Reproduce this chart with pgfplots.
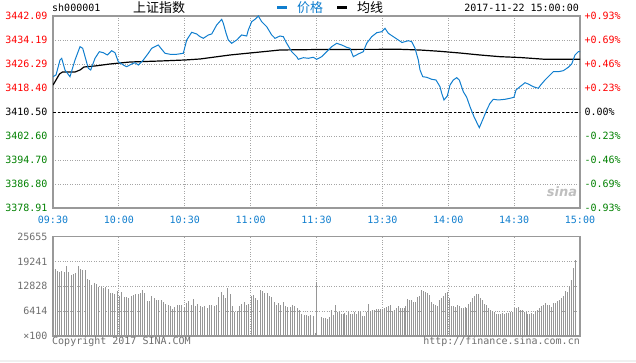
\documentclass[border=0pt]{standalone}
\usepackage{pgfplots}
\pgfplotsset{compat=1.18}
\usepackage{fontspec}
\setmonofont{DejaVu Sans Mono}
\setsansfont{DejaVu Sans}
\newfontfamily\cjk{Noto Sans CJK SC}
\definecolor{fgray}{RGB}{153,153,153}
\definecolor{gridgray}{RGB}{165,165,165}
\definecolor{pblue}{RGB}{16,126,206}
\definecolor{tred}{RGB}{255,0,0}
\definecolor{tgreen}{RGB}{0,128,0}
\definecolor{vgray}{RGB}{150,150,150}
\definecolor{lgray}{RGB}{110,110,110}
\newcommand{\mf}{\ttfamily\fontsize{10}{12}\selectfont}
\newcommand{\cf}{\cjk\fontsize{13}{14}\selectfont}
\begin{document}
\begin{tikzpicture}[x=1pt,y=1pt]
\path[use as bounding box] (0,0) rectangle (636,362);
\fill[black!6] (0,0) rectangle (636,2);
% header
\node[anchor=west,inner sep=0] at (52,354) {\mf sh000001};
\node[anchor=west,inner sep=0] at (133,354) {\cf 上证指数};
\draw[pblue,line width=3pt] (277,354.5)--(287,354.5);
\node[anchor=west,inner sep=0,text=pblue] at (297,354) {\cf 价格};
\draw[black,line width=3pt] (337,354.5)--(347,354.5);
\node[anchor=west,inner sep=0] at (357,354) {\cf 均线};
\node[anchor=east,inner sep=0] at (579,354) {\mf 2017-11-22 15:00:00};
% main price axis
\begin{axis}[
  at={(53pt,154pt)}, anchor=south west, scale only axis,
  width=527pt, height=192pt,
  xmin=0, xmax=240, ymin=3378.91, ymax=3442.09,
  xtick={0,30,60,90,120,150,180,210,240},
  xticklabels={09:30,10:00,10:30,11:00,11:30,13:30,14:00,14:30,15:00},
  ytick={3378.91,3386.80,3394.70,3402.60,3410.50,3418.40,3426.29,3434.19,3442.09},
  yticklabels={\textcolor{tgreen}{3378.91},\textcolor{tgreen}{3386.80},\textcolor{tgreen}{3394.70},\textcolor{tgreen}{3402.60},\textcolor{black}{3410.50},\textcolor{tred}{3418.40},\textcolor{tred}{3426.29},\textcolor{tred}{3434.19},\textcolor{tred}{3442.09}},
  major tick length=0pt,
  grid=major, major grid style={gridgray, dotted, line width=0.9pt},
  axis line style={fgray, line width=1.3pt},
  xticklabel style={font=\mf, text=pblue, yshift=-5pt},
  yticklabel style={font=\mf, xshift=-2pt},
  scaled y ticks=false,
]
\addplot[black, line width=0.9pt, dash pattern=on 2.5pt off 2pt] coordinates {(0,3410.50) (240,3410.50)};
\addplot[black, line width=1.2pt] coordinates {
(0,3419.38) (1.37,3421.03) (2.96,3423.00) (4.33,3423.66) (10.02,3423.66) (12.30,3424.32)
(14.12,3425.31) (19.13,3425.64) (25.96,3426.30) (35.07,3426.95) (48.73,3427.28) (60.11,3427.61)
(66.95,3427.94) (80.60,3429.26) (94.27,3430.24) (103.38,3430.90) (121.6,3431.07) (158.0,3431.13)
(167.1,3430.90) (176.2,3430.47) (185.3,3429.91) (194.4,3429.26) (203.6,3428.70) (212.7,3428.43)
(224.1,3427.84) (240,3427.84)};
\addplot[pblue, line width=1pt] coordinates {
(0,3422.12) (1.37,3422.68) (3.19,3427.61) (3.96,3428.17) (5.46,3424.32) (7.74,3422.12)
(10.02,3427.61) (12.30,3431.99) (13.53,3431.46) (15.03,3427.61) (16.08,3424.88) (17.17,3424.32)
(19.13,3428.17) (21.09,3430.34) (22.91,3430.01) (24.73,3429.26) (26.73,3430.67) (28.24,3430.01)
(29.74,3427.05) (32.02,3425.97) (33.56,3425.41) (35.84,3426.30) (37.34,3426.72) (38.85,3425.97)
(41.12,3427.61) (43.40,3429.82) (44.95,3431.46) (47.95,3432.55) (49.50,3431.13) (51.01,3429.82)
(53.28,3429.49) (56.34,3429.49) (59.34,3429.82) (60.89,3434.19) (63.17,3436.73) (65.44,3436.17)
(66.95,3435.28) (68.45,3434.75) (70.73,3435.84) (72.27,3436.17) (74.55,3439.13) (76.83,3441.00)
(77.56,3439.69) (78.79,3436.50) (79.83,3434.19) (81.38,3433.11) (83.66,3434.19) (85.94,3435.84)
(88.21,3435.51) (88.94,3437.48) (90.49,3440.21) (91.99,3441.00) (93.50,3442.09) (95.04,3440.21)
(97.32,3438.57) (99.60,3435.84) (101.10,3434.75) (103.38,3435.51) (104.88,3435.28) (106.43,3433.11)
(108.71,3430.34) (110.98,3428.70) (111.71,3427.84) (113.99,3428.37) (116.27,3428.17) (118.54,3428.50)
(120.09,3427.84) (122.37,3428.70) (124.65,3430.34) (126.92,3431.99) (129.20,3433.11) (131.48,3432.55)
(133.75,3431.79) (135.26,3431.46) (136.76,3428.70) (139.04,3429.59) (141.31,3430.34) (142.86,3433.11)
(145.14,3435.28) (147.42,3436.59) (149.69,3436.92) (151.20,3438.04) (152.70,3436.40) (154.98,3435.28)
(157.25,3434.19) (158.94,3433.37) (161.81,3433.96) (163.36,3433.63) (164.86,3431.46) (166.36,3427.61)
(167.14,3424.32) (168.37,3422.12) (170.19,3421.92) (172.46,3421.26) (174.42,3421.03) (176.24,3418.83)
(177.02,3416.65) (178.06,3414.45) (179.57,3415.77) (180.80,3419.38) (182.30,3421.03) (183.85,3421.79)
(185.03,3421.03) (186.86,3417.18) (188.40,3415.34) (189.91,3412.24) (191.73,3408.95) (194.14,3405.33)
(195.97,3408.43) (197.51,3411.16) (199.02,3413.36) (200.52,3414.68) (202.80,3414.45) (205.85,3414.68)
(208.12,3415.01) (209.94,3415.34) (210.85,3417.74) (212.67,3418.83) (214.95,3420.14) (216.45,3419.71)
(218.73,3418.83) (221.01,3418.30) (222.10,3419.38) (224.06,3421.03) (226.34,3422.68) (227.84,3423.76)
(230.12,3423.76) (232.39,3424.09) (234.67,3425.21) (236.22,3426.30) (237.72,3429.26) (239.23,3430.34)
(240,3430.34)};
\end{axis}
% right-hand percentage labels
\begin{axis}[
  at={(53pt,154pt)}, anchor=south west, scale only axis,
  width=527pt, height=192pt,
  xmin=0, xmax=240, ymin=3378.91, ymax=3442.09,
  hide x axis, axis y line*=right, y axis line style={draw=none},
  major tick length=0pt,
  ytick={3378.91,3386.80,3394.70,3402.60,3410.50,3418.40,3426.29,3434.19,3442.09},
  yticklabels={\textcolor{tgreen}{-0.93\%},\textcolor{tgreen}{-0.69\%},\textcolor{tgreen}{-0.46\%},\textcolor{tgreen}{-0.23\%},\textcolor{black}{0.00\%},\textcolor{tred}{+0.23\%},\textcolor{tred}{+0.46\%},\textcolor{tred}{+0.69\%},\textcolor{tred}{+0.93\%}},
  yticklabel style={font=\mf, anchor=west, xshift=1pt},
  scaled y ticks=false,
]
\addplot[draw=none] coordinates {(0,3410.50)};
\end{axis}
\node[anchor=center,inner sep=0,text=black!25] at (562,170) {\sffamily\bfseries\itshape\fontsize{13}{13}\selectfont sina};
% volume axis
\begin{axis}[
  at={(53pt,26pt)}, anchor=south west, scale only axis,
  width=527pt, height=99.3pt,
  xmin=0, xmax=240, ymin=0, ymax=25655,
  xtick={0,30,60,90,120,150,180,210,240}, xticklabels={},
  ytick={0,6414,12828,19241,25655},
  yticklabels={\texttimes100,6414,12828,19241,25655},
  scaled y ticks=false,
  major tick length=0pt,
  grid=major, major grid style={gridgray, dotted, line width=0.9pt},
  axis line style={fgray, line width=1.3pt},
  yticklabel style={font=\mf, text=lgray, xshift=-2pt},
]
\addplot[ycomb, vgray, line width=0.9pt, mark=none] table[x expr=0.9+\coordindex*1.05, y index=0, header=false, row sep=\\] {
17438\\16836\\16579\\16751\\16579\\18039\\16493\\15720\\15977\\16149\\
18039\\17266\\17180\\17094\\14689\\14345\\13143\\13744\\13315\\12713\\
12713\\12456\\12541\\12026\\11081\\11081\\10909\\11511\\10394\\11425\\
10050\\10136\\9707\\10308\\10566\\10738\\10823\\11081\\11768\\10995\\
9020\\9105\\10308\\9879\\9363\\9277\\9363\\8762\\8332\\7903\\
7731\\6958\\7473\\7989\\7989\\7903\\7473\\8590\\9020\\7989\\
9621\\7731\\8161\\7731\\7473\\7645\\7216\\8075\\7989\\7731\\
8075\\10050\\11253\\10480\\9879\\12456\\10738\\7817\\6271\\6528\\
7731\\8161\\8676\\7903\\8246\\10394\\10566\\9879\\9277\\11768\\
11511\\11167\\11081\\10394\\10050\\8848\\7989\\8418\\7903\\8676\\
7645\\7473\\7559\\7989\\7731\\7302\\6614\\5584\\5412\\5412\\
5240\\5412\\5240\\687\\
};
\addplot[ycomb, vgray, line width=0.9pt, mark=none] coordinates {(120,13830)};
\addplot[ycomb, vgray, line width=0.9pt, mark=none] table[x expr=122.2+\coordindex*0.896, y index=0, header=false, row sep=\\] {
4982\\4725\\4553\\4295\\4810\\6700\\5412\\7989\\6099\\6099\\
5669\\5755\\5927\\5412\\6271\\5584\\5755\\6271\\5584\\6443\\
6271\\5240\\5068\\6271\\8246\\6443\\6614\\6786\\6872\\6958\\
6958\\6872\\7302\\7473\\7645\\7989\\6443\\6700\\7130\\7645\\
7130\\7302\\7302\\7645\\9535\\9277\\9277\\8848\\8676\\10050\\
10222\\11768\\11597\\11253\\11167\\10566\\8848\\8332\\7989\\7817\\
9277\\9879\\10394\\10995\\11253\\9707\\7817\\7645\\7473\\7989\\
7645\\7302\\7302\\7387\\7302\\8332\\8848\\9707\\10222\\10823\\
10823\\9707\\9191\\8161\\7989\\7130\\6786\\6528\\6099\\5755\\
5584\\5755\\5927\\5755\\5841\\5927\\6099\\6271\\7130\\7302\\
7473\\6614\\6614\\6271\\6099\\5755\\5584\\5927\\5755\\6443\\
6700\\7130\\7645\\7989\\8504\\7989\\7989\\7473\\8504\\8504\\
9020\\9191\\9707\\10222\\11597\\11425\\12800\\14431\\17610\\19585\\
};
\end{axis}
\node[anchor=west,inner sep=0,text=lgray] at (52,20) {\mf Copyright 2017 SINA.COM};
\node[anchor=east,inner sep=0,text=lgray] at (580,20) {\mf http://finance.sina.com.cn};
\end{tikzpicture}
\end{document}
